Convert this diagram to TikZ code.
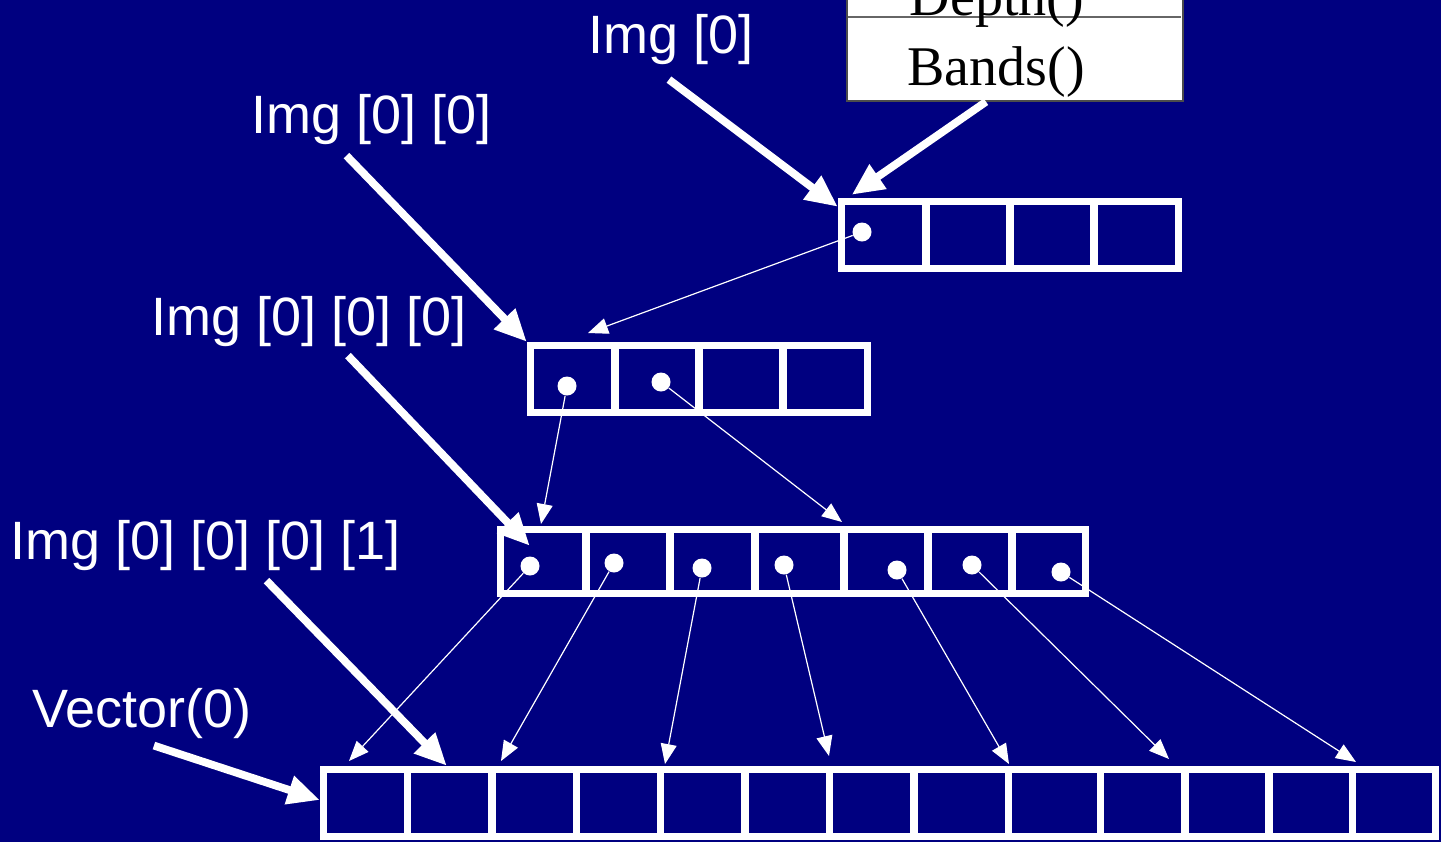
\documentclass[tikz,border=0pt]{standalone}
\usepackage{fontspec}
\setmainfont{Liberation Sans}
\newfontfamily\methfont{Liberation Serif}
\usetikzlibrary{arrows.meta}
\definecolor{navy}{RGB}{0,0,128}
\tikzset{
  cell/.style={draw=white, line width=3.75pt, minimum height=33.5pt, inner sep=0pt},
  ball/.style={circle, fill=white, minimum size=9.5pt, inner sep=0pt},
  lbl/.style={text=white, font=\fontsize{27}{30}\selectfont, inner sep=0pt, anchor=base west},
  meth/.style={text=black, font=\methfont\fontsize{28}{32}\selectfont, inner sep=0pt, anchor=base},
  big/.style={white, line width=3.9pt, -{Triangle[length=16pt, width=14pt]}},
  ptr/.style={white, line width=0.6pt, -{Triangle[length=10pt, width=8pt]}},
}
\begin{document}
\begin{tikzpicture}[x=0.5pt, y=-0.5pt]
\fill[navy] (0, 0) rectangle (1441, 842);
\useasboundingbox (0, 0) rectangle (1441, 842);

\draw (1015, 30.5) node[draw=black!70, fill=white, line width=0.75pt, minimum width=168pt, minimum height=70.5pt] (bx) {};
\draw[black!60, line width=0.75pt] (848, 17) -- (1181, 17);
\draw (997, 15) node[meth] (depth) {Depth()};
\draw (996, 85) node[meth] (bands) {Bands()};

\draw (588, 53) node[lbl] (l0) {Img [0]};
\draw (251, 133) node[lbl] (l00) {Img [0] [0]};
\draw (151, 335) node[lbl] (l000) {Img [0] [0] [0]};
\draw (10, 559) node[lbl] (l0001) {Img [0] [0] [0] [1]};
\draw (32, 727) node[lbl] (v) {Vector(0)};

\draw (883.6, 235) node[cell, minimum width=42.1pt] (a1) {};
\draw (967.9, 235) node[cell, minimum width=42.1pt] (a2) {};
\draw (1052.1, 235) node[cell, minimum width=42.1pt] (a3) {};
\draw (1136.4, 235) node[cell, minimum width=42.1pt] (a4) {};

\draw (572.6, 379) node[cell, minimum width=42.1pt] (b1) {};
\draw (656.9, 379) node[cell, minimum width=42.1pt] (b2) {};
\draw (741.1, 379) node[cell, minimum width=42.1pt] (b3) {};
\draw (825.4, 379) node[cell, minimum width=42.1pt] (b4) {};

\begin{scope}[cell/.append style={minimum height=32pt}]
\draw (543.25, 561.5) node[cell, minimum width=42.75pt] (c1) {};
\draw (628, 561.5) node[cell, minimum width=42pt] (c2) {};
\draw (712.5, 561.5) node[cell, minimum width=42.5pt] (c3) {};
\draw (799.5, 561.5) node[cell, minimum width=44.5pt] (c4) {};
\draw (886, 561.5) node[cell, minimum width=42pt] (c5) {};
\draw (970, 561.5) node[cell, minimum width=42pt] (c6) {};
\draw (1048.75, 561.5) node[cell, minimum width=36.75pt] (c7) {};
\end{scope}

\draw (365.5, 803) node[cell, minimum width=42pt] (d1) {};
\draw (449.75, 803) node[cell, minimum width=42.25pt] (d2) {};
\draw (534.25, 803) node[cell, minimum width=42.25pt] (d3) {};
\draw (618.5, 803) node[cell, minimum width=42pt] (d4) {};
\draw (702.75, 803) node[cell, minimum width=42.25pt] (d5) {};
\draw (787.25, 803) node[cell, minimum width=42.25pt] (d6) {};
\draw (871.75, 803) node[cell, minimum width=42.25pt] (d7) {};
\draw (961.25, 803) node[cell, minimum width=47.25pt] (d8) {};
\draw (1054.5, 803) node[cell, minimum width=46pt] (d9) {};
\draw (1142.75, 803) node[cell, minimum width=42.25pt] (d10) {};
\draw (1227, 803) node[cell, minimum width=42pt] (d11) {};
\draw (1310.75, 803) node[cell, minimum width=41.75pt] (d12) {};
\draw (1394, 803) node[cell, minimum width=41.5pt] (d13) {};

\draw (862, 232) node[ball] (pa) {};
\draw (567, 386) node[ball] (pb1) {};
\draw (661, 382) node[ball] (pb2) {};
\draw (530, 566) node[ball] (pc1) {};
\draw (614, 563) node[ball] (pc2) {};
\draw (702, 568) node[ball] (pc3) {};
\draw (784, 565) node[ball] (pc4) {};
\draw (897, 570) node[ball] (pc5) {};
\draw (972, 565) node[ball] (pc6) {};
\draw (1061, 572) node[ball] (pc7) {};

\draw (588, 333) coordinate (t1);
\draw (541, 524) coordinate (t2);
\draw (842, 522) coordinate (t3);
\draw (349, 761) coordinate (e1);
\draw (501, 761) coordinate (e2);
\draw (665, 764) coordinate (e3);
\draw (829, 756) coordinate (e4);
\draw (1009, 764) coordinate (e5);
\draw (1169, 759) coordinate (e6);
\draw (1356, 762) coordinate (e7);

\draw[ptr] (pa) -- (t1);
\draw[ptr] (pb1) -- (t2);
\draw[ptr] (pb2) -- (t3);
\draw[ptr] (pc1) -- (e1);
\draw[ptr] (pc2) -- (e2);
\draw[ptr] (pc3) -- (e3);
\draw[ptr] (pc4) -- (e4);
\draw[ptr] (pc5) -- (e5);
\draw[ptr] (pc6) -- (e6);
\draw[ptr] (pc7) -- (e7);

\draw[big] ([xshift=-1pt, yshift=-7.5pt]l0.south) -- ([yshift=-4.5pt]a1.north west);
\draw[big] ([xshift=-14.5pt]bx.south) -- ([xshift=7pt, yshift=1.5pt]a1.north west);
\draw[big] ([xshift=-12.5pt, yshift=-5.5pt]l00.south) -- (b1.north west);
\draw[big] ([xshift=19.5pt, yshift=-4.5pt]l000.south) -- ([xshift=16.5pt, yshift=-10pt]c1.north west);
\draw[big] ([xshift=30.5pt, yshift=-5pt]l0001.south) -- ([xshift=-1.5pt]d2.north);
\draw[big] ([xshift=6pt, yshift=-3.5pt]v.south) -- ([yshift=1.5pt]d1.west);

\end{tikzpicture}
\end{document}
